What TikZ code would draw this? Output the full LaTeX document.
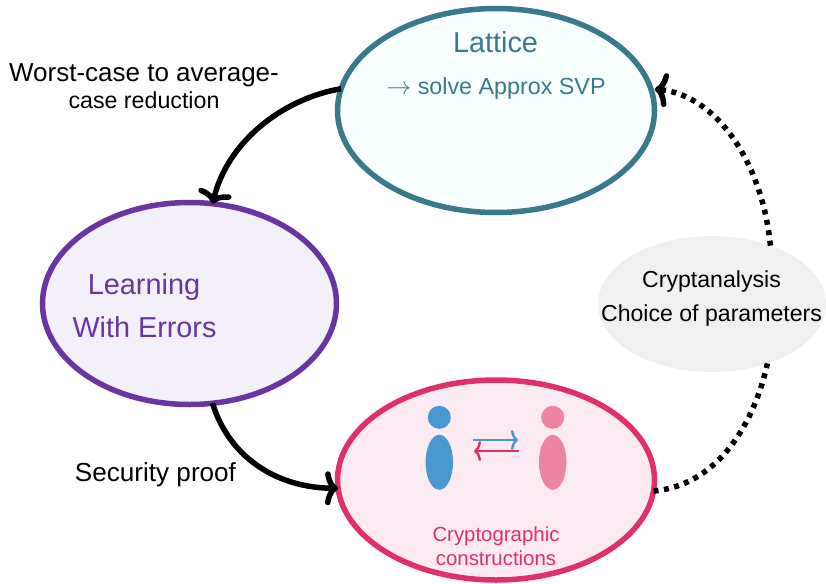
\documentclass[tikz,border=0pt]{standalone}
\usepackage{fontspec}
\setmainfont{Liberation Sans}
\usetikzlibrary{shapes.geometric,arrows.meta}
\definecolor{latC}{HTML}{3A788C}
\definecolor{latF}{HTML}{F8FFFE}
\definecolor{lweC}{HTML}{6A35A0}
\definecolor{lweF}{HTML}{F3F0F9}
\definecolor{cryC}{HTML}{E03068}
\definecolor{cryF}{HTML}{FCEAF3}
\definecolor{grayF}{HTML}{F0F0F0}
\definecolor{aliceC}{HTML}{4A98D2}
\definecolor{bobC}{HTML}{EC84A4}
\newcommand{\fsz}[1]{\fontsize{#1}{#1}\selectfont}
\tikzset{
  blob/.style={ellipse,draw,line width=5.5pt,inner sep=0pt,outer sep=0pt},
  lab/.style={anchor=base,inner sep=0pt,outer sep=0pt},
  bigtip/.tip={Computer Modern Rightarrow[length=13pt,width=34pt,line width=5.5pt,round]},
  smalltip/.tip={Computer Modern Rightarrow[length=7pt,width=20pt,line width=2.4pt,round]},
  flow/.style={line width=5.5pt,-{bigtip}},
  dots/.style={line width=5.5pt,dash pattern=on 5pt off 5.5pt},
  figure/.style={circle,fill,inner sep=0pt,outer sep=0pt,minimum size=23pt},
  torso/.style={ellipse,fill,inner sep=0pt,outer sep=0pt,minimum width=27.5pt,minimum height=55pt},
}
\begin{document}
\begin{tikzpicture}[x=1pt,y=-1pt]
\useasboundingbox (0,0) rectangle (826,583);
% ellipses
\node[blob,draw=latC,fill=latF,minimum width=317pt,minimum height=204pt] (lat) at (496,110.5) {};
\node[blob,draw=lweC,fill=lweF,minimum width=294pt,minimum height=202pt] (lwe) at (189.5,303.5) {};
\node[blob,draw=cryC,fill=cryF,minimum width=317pt,minimum height=200pt] (cry) at (496,480) {};
\node[ellipse,fill=grayF,inner sep=0pt,outer sep=0pt,minimum width=228pt,minimum height=136pt] (ana) at (712,304) {};
% connectors
\draw[flow] (lat.172) .. controls (285,98) and (228,140) .. (lwe.77.4);
\draw[flow] (lwe.-77.4) .. controls (230,460) and (280,488) .. (cry.183.6);
\draw[dots] (cry.-4) .. controls (720,485) and (755,420) .. (ana.-47.6);
\draw[dots,-{bigtip},shorten >=4pt] (ana.45) .. controls (762,160) and (715,95) .. (lat.8);
% texts
\node[lab,text=latC,font=\fsz{28.8}] (t1) at (495.5,53) {Lattice};
\node[lab,text=latC,font=\fsz{23.3}] (t2) at (496,94.5) {$\rightarrow$ solve Approx SVP};
\node[lab,font=\fsz{26}] (t3) at (144,82) {Worst-case to average-};
\node[lab,font=\fsz{23.2}] (t4) at (144,108) {case reduction};
\node[lab,text=lweC,font=\fsz{28.9}] (t5) at (144,294) {Learning};
\node[lab,text=lweC,font=\fsz{28.8}] (t6) at (144.5,337) {With Errors};
\node[lab,font=\fsz{26.1}] (t7) at (155.5,481) {Security proof};
\node[lab,font=\fsz{23.1}] (t8) at (711.5,287) {Cryptanalysis};
\node[lab,font=\fsz{23.1}] (t9) at (711.5,321) {Choice of parameters};
\node[lab,text=cryC,font=\fsz{20.4}] (t10) at (496,541.7) {Cryptographic};
\node[lab,text=cryC,font=\fsz{20.4}] (t11) at (496,565.7) {constructions};
% figures
\node[figure,fill=aliceC] (ah) at (439.3,417.3) {};
\node[torso,fill=aliceC] (ab) at (439.3,462.3) {};
\node[figure,fill=bobC] (bh) at (552.7,417.3) {};
\node[torso,fill=bobC] (bb) at (552.7,462.3) {};
\coordinate (a1) at (473,440);
\coordinate (a2) at (518,440);
\coordinate (b1) at (519,451);
\coordinate (b2) at (474,451);
\draw[aliceC,line width=2.4pt,-{smalltip}] (a1) -- (a2);
\draw[cryC,line width=2.4pt,-{smalltip}] (b1) -- (b2);
\end{tikzpicture}
\end{document}
